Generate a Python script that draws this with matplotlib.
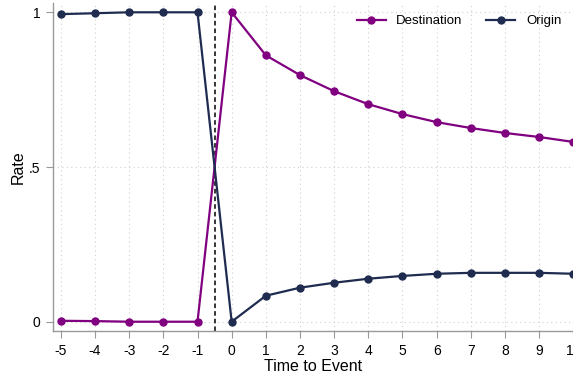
import matplotlib
matplotlib.use("Agg")
import matplotlib.pyplot as plt

plt.rcParams["font.family"] = ["Liberation Sans", "DejaVu Sans"]
plt.rcParams["axes.unicode_minus"] = False

# event time and the two rates
periods = [-5, -4, -3, -2, -1, 0, 1, 2, 3, 4, 5, 6, 7, 8, 9, 10]
destination = [0.003, 0.002, 0.0, 0.0, 0.0, 1.0, 0.861, 0.797, 0.745, 0.703,
               0.671, 0.645, 0.626, 0.610, 0.597, 0.581]
origin = [0.994, 0.997, 1.0, 1.0, 1.0, 0.0, 0.084, 0.110, 0.126, 0.139,
          0.148, 0.155, 0.158, 0.158, 0.158, 0.155]
ytick_vals = [0, 0.5, 1]
ytick_labels = ["0", ".5", "1"]

purple = "#800080"
navy = "#1f2c4f"

fig = plt.figure(figsize=(5.73, 3.77), dpi=100)
ax = fig.add_axes([0.0925, 0.122, 0.908, 0.870])

ax.plot(periods, destination, color=purple, marker="o", ms=5, lw=1.6, label="Destination", zorder=3)
ax.plot(periods, origin, color=navy, marker="o", ms=5, lw=1.6, label="Origin", zorder=3)
ax.axvline(-0.5, color="black", ls=(0, (3, 2)), lw=1.1, zorder=2)

ax.set_xlim(-5.23, 10.0)
ax.set_ylim(-0.03, 1.03)
ax.set_xticks(periods)
ax.set_yticks(ytick_vals)
ax.set_yticklabels(ytick_labels)
ax.grid(True, color="#d0d0d0", ls=(0, (1, 3)), lw=0.8)
ax.set_axisbelow(True)

for s in ["top", "right"]:
    ax.spines[s].set_visible(False)
for s in ["left", "bottom"]:
    ax.spines[s].set_color("#999999")
    ax.spines[s].set_linewidth(1.0)
ax.tick_params(direction="out", color="#999999", length=5, labelsize=10, pad=4)

ax.set_xlabel("Time to Event", fontsize=11.5, labelpad=1)
ax.set_ylabel("Rate", fontsize=11.5, labelpad=2)

ax.legend(loc="upper right", ncol=2, frameon=False, fontsize=9.5,
          handlelength=2.2, columnspacing=1.8, bbox_to_anchor=(1.0, 1.0))

fig.savefig("out.png", dpi=100)
